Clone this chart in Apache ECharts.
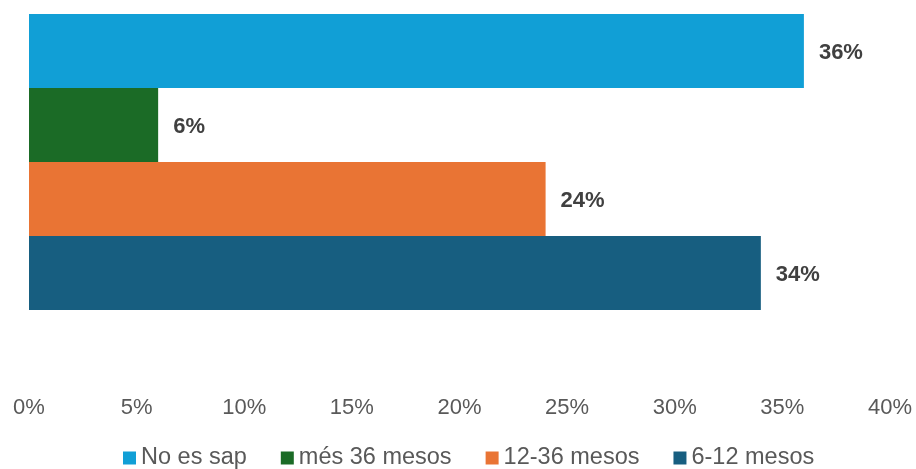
<!DOCTYPE html>
<html><head><meta charset="utf-8">
<script src="https://cdn.jsdelivr.net/npm/echarts@6/dist/echarts.min.js"></script>
<style>html,body{margin:0;padding:0;background:#fff}#c{width:916px;height:469px}</style>
</head><body><div id="c"></div>
<script>
const categories = [''];
const seriesNames = ['No es sap', 'més 36 mesos', '12-36 mesos', '6-12 mesos'];
const seriesValues = [36, 6, 24, 34];
const seriesColors = ['#119FD6', '#1B6B26', '#E97434', '#175E80'];
const xTicks = { min: 0, max: 40, interval: 5 };

const chart = echarts.init(document.getElementById('c'));
const series = seriesNames.map((name, i) => ({
  name: name,
  type: 'bar',
  data: [seriesValues[i]],
  itemStyle: { color: seriesColors[i] },
  barGap: '0%',
  barCategoryGap: '0%',
  label: {
    show: true, position: 'right', distance: 15, offset: [0, 2],
    formatter: p => p.value + '%',
    fontFamily: 'Arial, Liberation Sans', fontWeight: 'bold', fontSize: 22, color: '#404040'
  }
}));
chart.setOption({
  animation: false,
  grid: { left: 29, top: 14, width: 861, height: 296, containLabel: false },
  xAxis: {
    type: 'value', min: xTicks.min, max: xTicks.max, interval: xTicks.interval,
    axisLine: { show: false }, axisTick: { show: false }, splitLine: { show: false },
    axisLabel: { formatter: v => v + '%', margin: 87, fontFamily: 'Arial, Liberation Sans', fontSize: 22, color: '#595959' }
  },
  yAxis: {
    type: 'category', data: categories,
    axisLine: { show: false }, axisTick: { show: false }, axisLabel: { show: false }
  },
  legend: {
    data: seriesNames, top: 446, left: 123, padding: 0,
    icon: 'rect', itemWidth: 13, itemHeight: 13, itemGap: 34,
    textStyle: { fontFamily: 'Arial, Liberation Sans', fontSize: 23.5, color: '#595959', padding: [2, 0, 0, 0] }
  },
  series: series
});
</script></body></html>
